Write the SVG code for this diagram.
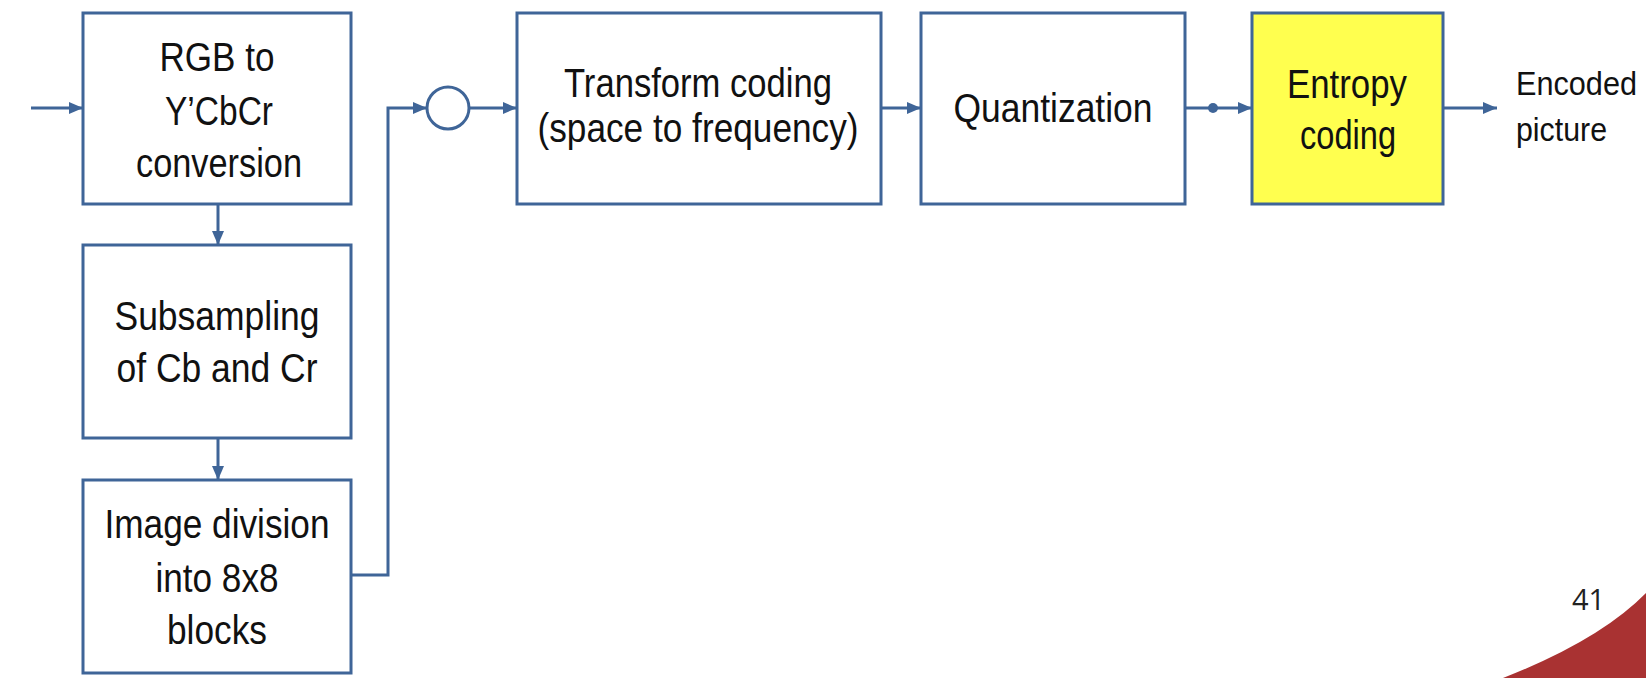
<svg xmlns="http://www.w3.org/2000/svg" width="1646" height="678" viewBox="0 0 1646 678">
  <style>
    .box { fill: #ffffff; stroke: #3f6598; stroke-width: 3; }
    .yel { fill: #ffff4f; stroke: #3f6598; stroke-width: 3; }
    .lbl { font-family: "Liberation Sans", Arial, sans-serif; font-size: 40px; fill: #111111; text-anchor: middle; }
    .out { font-family: "Liberation Sans", Arial, sans-serif; font-size: 33px; fill: #111111; }
    .num { font-family: "Open Sans", "Noto Sans", sans-serif; font-size: 29px; fill: #222222; }
    .con { fill: none; stroke: #3f6598; stroke-width: 3; }
  </style>
  <defs>
    <marker id="arr" markerUnits="userSpaceOnUse" markerWidth="15" markerHeight="14" refX="14" refY="7" orient="auto">
      <path d="M0,1 L14,7 L0,13 Z" fill="#3f6598"/>
    </marker>
  </defs>
  <rect width="1646" height="678" fill="#ffffff"/>

  <path d="M1503,678 Q1600,640 1646,593 L1646,678 Z" fill="#a93232"/>
  <text class="num" x="1572" y="610">41</text>

  <g id="connectors">
    <path class="con" d="M31,108 L83,108" marker-end="url(#arr)"/>
    <path class="con" d="M218,204 L218,245" marker-end="url(#arr)"/>
    <path class="con" d="M218,438 L218,480" marker-end="url(#arr)"/>
    <path class="con" d="M351,575 L388,575 L388,108 L427,108" marker-end="url(#arr)"/>
    <path class="con" d="M469,108 L517,108" marker-end="url(#arr)"/>
    <path class="con" d="M881,108 L921,108" marker-end="url(#arr)"/>
    <path class="con" d="M1185,108 L1252,108" marker-end="url(#arr)"/>
    <circle cx="1213" cy="108" r="5" fill="#3f6598"/>
    <path class="con" d="M1443,108 L1497,108" marker-end="url(#arr)"/>
  </g>

  <g id="rgb">
    <rect class="box" x="83" y="13" width="268" height="191"/>
    <text class="lbl" x="217" y="71" textLength="115" lengthAdjust="spacingAndGlyphs">RGB to</text>
    <text class="lbl" x="219" y="125" textLength="108" lengthAdjust="spacingAndGlyphs">Y’CbCr</text>
    <text class="lbl" x="219" y="177" textLength="166" lengthAdjust="spacingAndGlyphs">conversion</text>
  </g>

  <g id="subsampling">
    <rect class="box" x="83" y="245" width="268" height="193"/>
    <text class="lbl" x="217" y="330" textLength="205" lengthAdjust="spacingAndGlyphs">Subsampling</text>
    <text class="lbl" x="217" y="382" textLength="201" lengthAdjust="spacingAndGlyphs">of Cb and Cr</text>
  </g>

  <g id="division">
    <rect class="box" x="83" y="480" width="268" height="193"/>
    <text class="lbl" x="217" y="538" textLength="225" lengthAdjust="spacingAndGlyphs">Image division</text>
    <text class="lbl" x="217" y="592" textLength="123" lengthAdjust="spacingAndGlyphs">into 8x8</text>
    <text class="lbl" x="217" y="644" textLength="100" lengthAdjust="spacingAndGlyphs">blocks</text>
  </g>

  <g id="sum">
    <circle cx="448" cy="108" r="21" fill="#ffffff" stroke="#3f6598" stroke-width="3"/>
  </g>

  <g id="transform">
    <rect class="box" x="517" y="13" width="364" height="191"/>
    <text class="lbl" x="698" y="97" textLength="268" lengthAdjust="spacingAndGlyphs">Transform coding</text>
    <text class="lbl" x="698" y="142" textLength="321" lengthAdjust="spacingAndGlyphs">(space to frequency)</text>
  </g>

  <g id="quantization">
    <rect class="box" x="921" y="13" width="264" height="191"/>
    <text class="lbl" x="1053" y="122" textLength="199" lengthAdjust="spacingAndGlyphs">Quantization</text>
  </g>

  <g id="entropy">
    <rect class="yel" x="1252" y="13" width="191" height="191"/>
    <text class="lbl" x="1347" y="98" textLength="120" lengthAdjust="spacingAndGlyphs">Entropy</text>
    <text class="lbl" x="1348" y="149" textLength="96" lengthAdjust="spacingAndGlyphs">coding</text>
  </g>

  <g id="output">
    <text class="out" x="1516" y="95" textLength="121" lengthAdjust="spacingAndGlyphs">Encoded</text>
    <text class="out" x="1516" y="141" textLength="91" lengthAdjust="spacingAndGlyphs">picture</text>
  </g>
</svg>
